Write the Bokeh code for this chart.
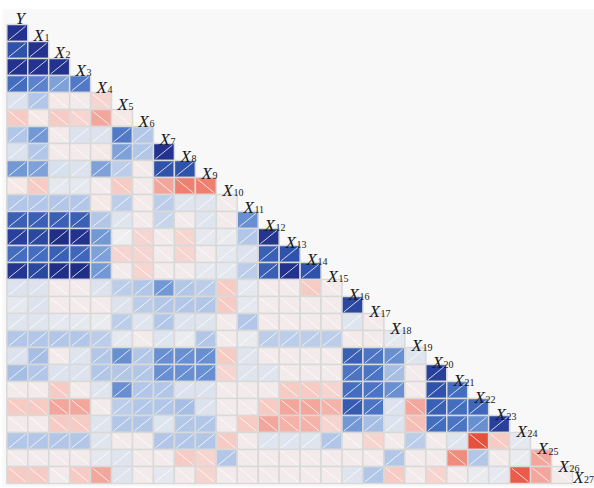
import numpy as np
from bokeh.plotting import figure
from bokeh.models import ColumnDataSource, LinearColorMapper, Range1d
from bokeh.transform import transform
from bokeh.core.properties import value
from bokeh.embed import file_html
from bokeh.resources import INLINE

# ---------------- data ----------------
variables = ["Y"] + [f"X{i}" for i in range(1, 28)]

row_X1 = [0.95]
row_X2 = [0.85, 0.95]
row_X3 = [0.95, 0.95, 0.95]
row_X4 = [0.75, 0.65, 0.5, 0.7]
row_X5 = [0.1, 0.3, -0.05, -0.03, -0.15]
row_X6 = [-0.2, -0.05, -0.2, -0.15, -0.35, -0.05]
row_X7 = [0.3, 0.55, -0.03, 0.1, 0.1, 0.7, 0.3]
row_X8 = [0.1, 0.3, -0.03, -0.03, -0.05, 0.5, 0.3, 0.95]
row_X9 = [0.55, 0.5, 0.12, 0.1, 0.5, 0.25, -0.03, 0.85, 0.85]
row_X10 = [-0.05, -0.2, 0.05, 0.05, -0.03, -0.2, -0.03, -0.35, -0.5, -0.5]
row_X11 = [0.3, 0.3, 0.3, 0.3, -0.05, 0.25, -0.03, 0.25, 0.08, 0.08, -0.03]
row_X12 = [0.8, 0.8, 0.8, 0.8, 0.3, 0.08, -0.03, 0.2, -0.03, 0.08, -0.03, 0.6]
row_X13 = [0.9, 0.88, 0.97, 0.95, 0.55, 0.0, -0.15, -0.03, -0.15, 0.05, 0.03, 0.3, 0.93]
row_X14 = [0.75, 0.75, 0.8, 0.78, 0.5, -0.15, -0.15, -0.03, -0.15, -0.03, 0.05, 0.1, 0.8, 0.85]
row_X15 = [0.93, 0.88, 0.97, 0.97, 0.55, -0.03, -0.15, -0.03, -0.03, 0.05, 0.05, 0.25, 0.8, 0.95, 0.85]
row_X16 = [0.1, 0.1, -0.03, -0.03, 0.1, 0.25, 0.3, 0.55, 0.3, 0.25, -0.2, 0.05, -0.03, -0.03, -0.2, -0.03]
row_X17 = [0.05, 0.1, -0.03, -0.03, -0.03, 0.1, 0.25, 0.3, 0.3, 0.3, -0.2, 0.05, -0.03, -0.03, -0.03, -0.03, 0.88]
row_X18 = [0.08, 0.08, 0.05, 0.05, 0.03, 0.25, 0.08, 0.3, 0.1, 0.08, -0.03, 0.3, -0.03, -0.03, -0.03, -0.03, 0.08, -0.03]
row_X19 = [0.3, 0.3, 0.3, 0.3, 0.25, 0.05, -0.03, 0.08, 0.03, 0.3, -0.03, 0.03, 0.25, 0.25, 0.25, 0.25, -0.03, -0.03, 0.05]
row_X20 = [0.1, 0.35, -0.03, 0.08, 0.3, 0.6, 0.3, 0.6, 0.6, 0.6, -0.2, 0.08, -0.03, -0.03, -0.03, -0.03, 0.8, 0.72, 0.6, 0.08]
row_X21 = [0.35, 0.3, 0.1, 0.1, 0.3, 0.3, 0.3, 0.6, 0.6, 0.6, -0.15, 0.08, 0.08, -0.03, -0.03, -0.03, 0.72, 0.72, 0.35, -0.03, 0.9]
row_X22 = [-0.03, -0.03, -0.2, -0.03, 0.08, 0.6, 0.3, 0.3, 0.1, 0.1, -0.03, -0.03, -0.03, -0.2, -0.2, -0.15, 0.75, 0.72, 0.6, -0.03, 0.85, 0.75]
row_X23 = [-0.2, -0.2, -0.35, -0.35, -0.03, 0.25, 0.3, 0.3, 0.35, 0.1, -0.03, -0.03, -0.2, -0.35, -0.35, -0.3, 0.82, 0.72, 0.1, -0.35, 0.8, 0.75, 0.78]
row_X24 = [-0.03, -0.03, -0.2, -0.2, 0.08, 0.3, 0.3, 0.08, 0.3, 0.3, -0.03, -0.2, -0.35, -0.3, -0.3, -0.15, 0.55, 0.35, 0.1, -0.25, 0.75, 0.72, 0.6, 0.9]
row_X25 = [0.3, 0.3, 0.3, 0.3, 0.08, -0.03, -0.03, 0.3, 0.3, 0.3, -0.2, -0.03, 0.08, 0.08, 0.08, 0.3, -0.03, -0.15, -0.03, 0.25, -0.03, 0.08, -0.7, -0.2, 0.05]
row_X26 = [-0.03, -0.03, -0.03, -0.03, 0.05, 0.08, -0.03, -0.03, -0.2, -0.15, 0.3, -0.03, -0.03, -0.03, -0.03, -0.03, -0.03, -0.03, 0.3, -0.03, -0.03, -0.45, 0.3, -0.03, 0.03, -0.35]
row_X27 = [-0.2, -0.2, -0.03, -0.2, -0.35, 0.08, -0.03, 0.05, -0.03, -0.15, -0.03, -0.03, -0.03, -0.03, -0.03, -0.03, 0.08, 0.3, -0.2, -0.03, -0.15, -0.03, 0.03, 0.05, -0.65, -0.35, -0.03]

rows = [row_X1, row_X2, row_X3, row_X4, row_X5, row_X6, row_X7, row_X8, row_X9,
        row_X10, row_X11, row_X12, row_X13, row_X14, row_X15, row_X16, row_X17,
        row_X18, row_X19, row_X20, row_X21, row_X22, row_X23, row_X24, row_X25,
        row_X26, row_X27]

# ---------------- colour scale ----------------
anchor_vals = [-1.0, -0.7, -0.5, -0.35, -0.2, -0.05, 0.0, 0.05, 0.1, 0.3, 0.55, 0.75, 0.85, 0.95, 1.0]
anchor_cols = ["#d73027", "#e8503e", "#ef7f6f", "#f3a69b", "#f6cbc4", "#f5e9e7", "#f0eef0",
               "#e5e8ef", "#dce3ee", "#b2c7e7", "#7399d6", "#4570c2", "#2f52aa", "#22328f", "#1c2a80"]


def _rgb(h):
    h = h.lstrip("#")
    return [int(h[i:i + 2], 16) for i in (0, 2, 4)]


_grid = np.linspace(-1, 1, 256)
_arr = np.array([_rgb(c) for c in anchor_cols], dtype=float)
palette = []
for g in _grid:
    rgb = [np.interp(g, anchor_vals, _arr[:, k]) for k in range(3)]
    palette.append("#%02x%02x%02x" % tuple(int(round(v)) for v in rgb))
mapper = LinearColorMapper(palette=palette, low=-1, high=1)

# ---------------- build glyph sources ----------------
xs, ys, rs = [], [], []
sx0, sy0, sx1, sy1 = [], [], [], []
ins = 0.1
for r, vals in enumerate(rows):
    for c, v in enumerate(vals):
        xs.append(c + 0.5)
        ys.append(-r - 0.5)
        rs.append(v)
        if v >= 0:
            sx0.append(c + ins); sy0.append(-r - 1 + ins)
            sx1.append(c + 1 - ins); sy1.append(-r - ins)
        else:
            sx0.append(c + ins); sy0.append(-r - ins)
            sx1.append(c + 1 - ins); sy1.append(-r - 1 + ins)

cells = ColumnDataSource(dict(x=xs, y=ys, r=rs))
segs = ColumnDataSource(dict(x0=sx0, y0=sy0, x1=sx1, y1=sy1))

# labels along the diagonal
lx, ly, ltxt, subx, suby, subtxt = [], [], [], [], [], []
for k, name in enumerate(variables):
    bx = k + 0.272 + 0.0024 * k
    by = -k + 0.353 - 0.0129 * k
    if k == len(variables) - 1:
        bx -= 0.3   # keep the last label inside the canvas
        by += 0.35
    if k == 0:
        lx.append(k + 0.415); ly.append(by); ltxt.append("Y")
    else:
        lx.append(bx); ly.append(by); ltxt.append("X")
        subx.append(bx + 0.52); suby.append(by - 0.12); subtxt.append(name[1:])

lab = ColumnDataSource(dict(x=lx, y=ly, t=ltxt))
sub = ColumnDataSource(dict(x=subx, y=suby, t=subtxt))

# ---------------- figure ----------------
x0 = -0.3007
y1 = 1.4118
p = figure(width=594, height=488, x_range=Range1d(x0, x0 + 594 / 20.95),
           y_range=Range1d(y1 - 488 / 17.0, y1),
           output_backend="svg", toolbar_location=None, min_border=0)
p.axis.visible = False
p.grid.visible = False
p.outline_line_color = None
p.background_fill_color = "white"
p.border_fill_color = "white"

# light grey panel
p.quad(left=[x0 + 2 / 20.95], right=[x0 + 600 / 20.95], top=[y1 - 9 / 17.0],
       bottom=[y1 - 486 / 17.0], fill_color="#f8f8f8", line_color=None)

p.rect(x="x", y="y", width=1, height=1, source=cells,
       fill_color=transform("r", mapper), line_color="#d9d9d9", line_width=1.5)
p.segment(x0="x0", y0="y0", x1="x1", y1="y1", source=segs,
          line_color="white", line_width=0.9, line_alpha=0.85)

p.text(x="x", y="y", text="t", source=lab, text_font=value("Liberation Serif"),
       text_font_style="italic", text_font_size="17px", text_color="#1a1a1a",
       text_align="left", text_baseline="alphabetic")
p.text(x="x", y="y", text="t", source=sub, text_font=value("Liberation Serif"),
       text_font_size="10px", text_color="#1a1a1a",
       text_align="left", text_baseline="alphabetic")

open("out.html", "w").write(file_html(p, INLINE))
